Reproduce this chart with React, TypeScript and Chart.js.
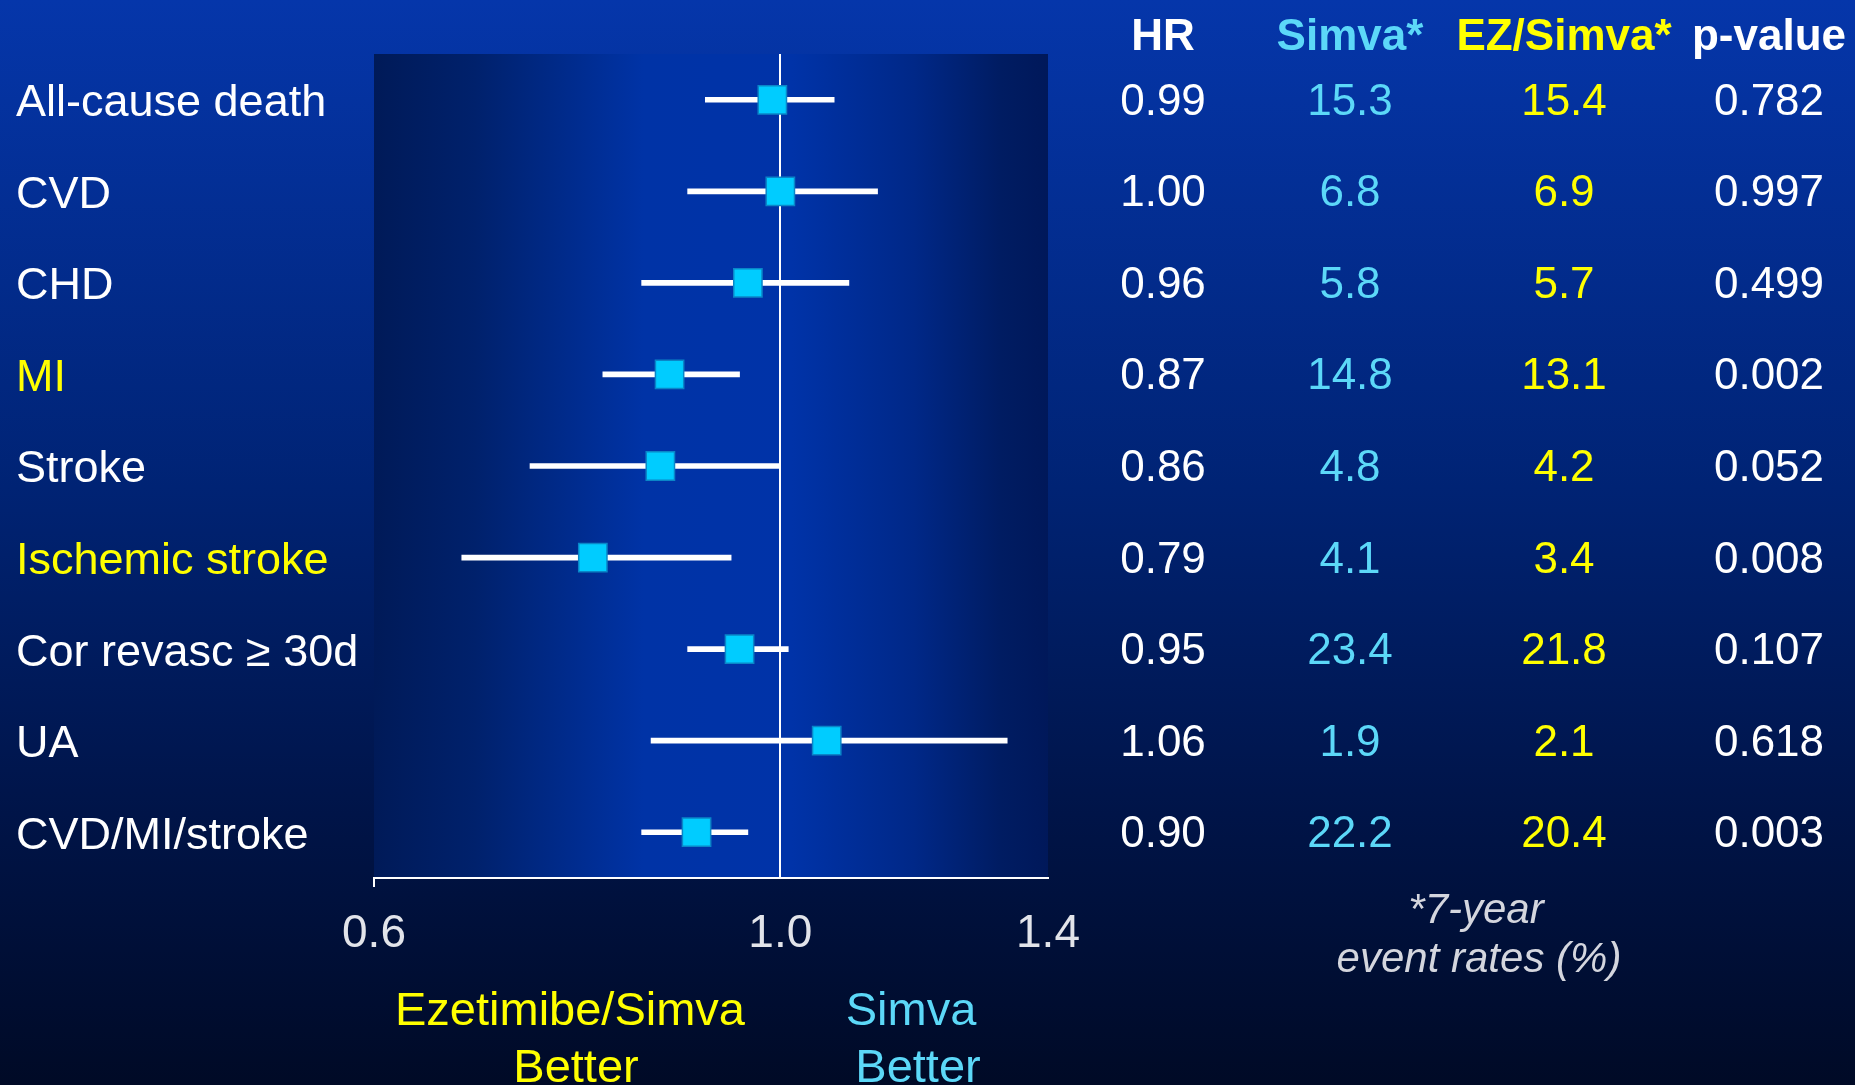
import React, { useEffect, useRef } from "react";
import { Chart, registerables } from "chart.js";

Chart.register(...registerables);

const ROWS = ["All-cause death", "CVD", "CHD", "MI", "Stroke", "Ischemic stroke", "Cor revasc ≥ 30d", "UA", "CVD/MI/stroke"];
const HIGHLIGHT_ROWS = ["MI", "Ischemic stroke"];
const HR = [0.99, 1.0, 0.96, 0.87, 0.86, 0.79, 0.95, 1.06, 0.9];
const CI_LOW = [0.91, 0.89, 0.84, 0.8, 0.73, 0.67, 0.89, 0.85, 0.84];
const CI_HIGH = [1.07, 1.13, 1.09, 0.95, 1.0, 0.94, 1.01, 1.33, 0.96];
const HR_TEXT = ["0.99", "1.00", "0.96", "0.87", "0.86", "0.79", "0.95", "1.06", "0.90"];
const SIMVA = ["15.3", "6.8", "5.8", "14.8", "4.8", "4.1", "23.4", "1.9", "22.2"];
const EZ_SIMVA = ["15.4", "6.9", "5.7", "13.1", "4.2", "3.4", "21.8", "2.1", "20.4"];
const P_VALUE = ["0.782", "0.997", "0.499", "0.002", "0.052", "0.008", "0.107", "0.618", "0.003"];
const HEADERS = ["HR", "Simva*", "EZ/Simva*", "p-value"];
const X_TICKS = [0.6, 1.0, 1.4];
const FOOTNOTE = ["*7-year", "event rates (%)"];
const LEFT_LABEL = ["Ezetimibe/Simva", "Better"];
const RIGHT_LABEL = ["Simva", "Better"];

const W = 1855;
const H = 1085;
const FONT = "'Liberation Sans', Arial, Helvetica, sans-serif";
const WHITE = "#ffffff";
const YELLOW = "#ffff00";
const CYAN = "#5cd8f8";

export default function App() {
  const ref = useRef<HTMLCanvasElement | null>(null);

  useEffect(() => {
    const canvas = ref.current;
    if (!canvas) return;

    const bgPlugin = {
      id: "bgPlugin",
      beforeDraw(chart: any) {
        const { ctx, chartArea } = chart;
        ctx.save();
        const g = ctx.createLinearGradient(0, 0, 0, H);
        g.addColorStop(0, "#0536aa");
        g.addColorStop(0.45, "#002374");
        g.addColorStop(0.75, "#001448");
        g.addColorStop(1, "#000a26");
        ctx.fillStyle = g;
        ctx.fillRect(0, 0, W, H);
        const { left, right, top, bottom } = chartArea;
        const pg = ctx.createLinearGradient(left, 0, right, 0);
        pg.addColorStop(0, "#001a58");
        pg.addColorStop(0.15, "#00216c");
        pg.addColorStop(0.4, "#0033a6");
        pg.addColorStop(0.62, "#0033a8");
        pg.addColorStop(0.8, "#002888");
        pg.addColorStop(0.93, "#001c62");
        pg.addColorStop(1, "#00185a");
        ctx.fillStyle = pg;
        ctx.fillRect(left, top, right - left, bottom - top);
        ctx.restore();
      },
    };

    const textPlugin = {
      id: "textPlugin",
      afterDraw(chart: any) {
        const { ctx } = chart;
        const y = chart.scales.y;
        const colX = [1163, 1350, 1564, 1769];
        const colColors = [WHITE, CYAN, YELLOW, WHITE];
        const cols = [HR_TEXT, SIMVA, EZ_SIMVA, P_VALUE];
        ctx.save();
        ctx.textAlign = "center";
        ctx.textBaseline = "alphabetic";
        ctx.font = `bold 44px ${FONT}`;
        HEADERS.forEach((h, i) => {
          ctx.fillStyle = colColors[i];
          ctx.fillText(h, colX[i], 50);
        });
        ctx.font = `44px ${FONT}`;
        cols.forEach((col, c) => {
          ctx.fillStyle = colColors[c];
          col.forEach((t, r) => {
            const py = y.getPixelForValue(r);
            ctx.fillText(t, colX[c], py + 15);
          });
        });
        ctx.font = `italic 42px ${FONT}`;
        ctx.fillStyle = "#d4d6de";
        ctx.fillText(FOOTNOTE[0], 1476, 923);
        ctx.fillText(FOOTNOTE[1], 1479, 972);
        ctx.font = `47px ${FONT}`;
        ctx.fillStyle = YELLOW;
        ctx.fillText(LEFT_LABEL[0], 570, 1025);
        ctx.fillText(LEFT_LABEL[1], 576, 1082);
        ctx.fillStyle = CYAN;
        ctx.fillText(RIGHT_LABEL[0], 911, 1025);
        ctx.fillText(RIGHT_LABEL[1], 918, 1082);
        ctx.restore();
      },
    };

    const chart = new Chart(canvas, {
      type: "bar",
      data: {
        labels: ROWS,
        datasets: [
          {
            type: "line",
            label: "HR",
            data: HR,
            showLine: false,
            pointStyle: "rect",
            pointRadius: 20,
            pointHoverRadius: 20,
            backgroundColor: "#00ccff",
            borderColor: "#0a86c8",
            borderWidth: 1.5,
            order: 0,
          } as any,
          {
            type: "bar",
            label: "95% CI",
            data: CI_LOW.map((lo, i) => [lo, CI_HIGH[i]]),
            backgroundColor: "#ffffff",
            borderWidth: 0,
            barThickness: 5,
            order: 1,
          } as any,
        ],
      },
      options: {
        animation: false,
        responsive: false,
        devicePixelRatio: 1,
        indexAxis: "y",
        events: [],
        layout: { padding: { left: 16, top: 54, right: W - 1048, bottom: 0 } },
        plugins: {
          legend: { display: false },
          tooltip: { enabled: false },
          title: { display: false },
        },
        scales: {
          x: {
            type: "logarithmic",
            position: "bottom",
            min: 0.6,
            max: 1.4,
            afterBuildTicks: (axis: any) => {
              axis.ticks = X_TICKS.map((v) => ({ value: v }));
            },
            afterFit: (scale: any) => {
              scale.height = H - 878;
            },
            border: { display: true, color: WHITE, width: 2 },
            grid: {
              drawOnChartArea: true,
              drawTicks: true,
              tickLength: 9,
              lineWidth: 2,
              tickWidth: 2,
              color: (c: any) => (c.tick && Math.abs(c.tick.value - 1) < 1e-9 ? WHITE : "rgba(0,0,0,0)"),
              tickColor: (c: any) => (c.tick && Math.abs(c.tick.value - 0.6) < 1e-9 ? WHITE : "rgba(0,0,0,0)"),
            },
            ticks: {
              autoSkip: false,
              maxRotation: 0,
              minRotation: 0,
              padding: 20,
              color: "#e2e4ea",
              font: { family: FONT, size: 46 },
              callback: (v: any) => Number(v).toFixed(1),
            },
          },
          y: {
            type: "category",
            position: "left",
            offset: true,
            afterFit: (scale: any) => {
              scale.width = 374 - 16;
            },
            border: { display: false },
            grid: { display: false },
            ticks: {
              autoSkip: false,
              crossAlign: "far",
              labelOffset: 4,
              color: ROWS.map((r) => (HIGHLIGHT_ROWS.includes(r) ? YELLOW : WHITE)),
              font: { family: FONT, size: 45 },
            },
          },
        },
      } as any,
      plugins: [bgPlugin, textPlugin],
    });

    return () => chart.destroy();
  }, []);

  return (
    <div style={{ position: "fixed", left: 0, top: 0, width: W, height: H, background: "#001448" }}>
      <canvas ref={ref} width={W} height={H} style={{ width: W, height: H, display: "block" }} />
    </div>
  );
}
